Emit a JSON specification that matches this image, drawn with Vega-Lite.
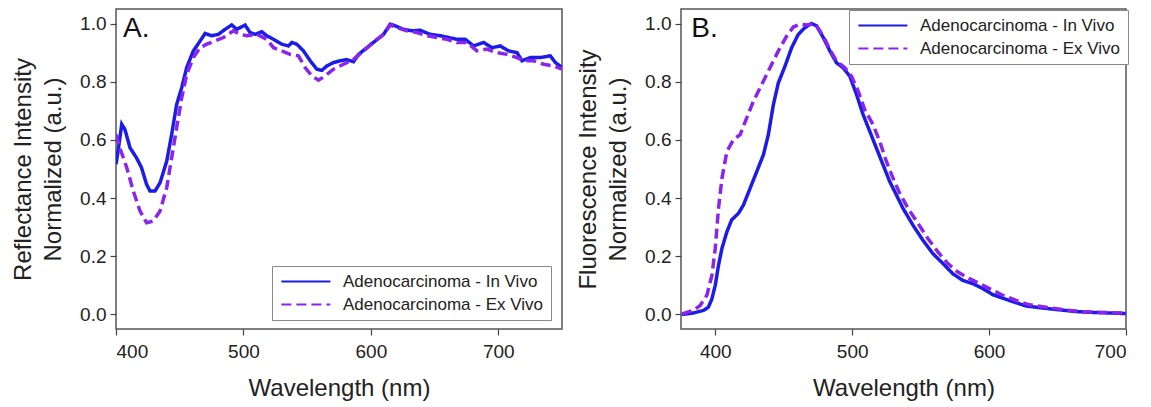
{
  "$schema": "https://vega.github.io/schema/vega-lite/v6.json",
  "background": "white",
  "padding": {"left": 10, "top": 8, "right": 2, "bottom": 0},
  "spacing": 12,
  "config": {
    "font": "Liberation Sans",
    "view": {"stroke": "#555", "strokeWidth": 1.5},
    "axis": {"domain": false, "grid": false, "tickColor": "#444", "tickSize": 6, "tickWidth": 1.2,
      "labelFont": "Liberation Sans", "labelFontSize": 19, "labelColor": "#222",
      "titleFont": "Liberation Sans", "titleFontSize": 24, "titleFontWeight": "normal", "titleColor": "#222"},
    "axisY": {"labelPadding": 4, "titlePadding": 14, "titleLineHeight": 30},
    "axisX": {"labelPadding": 7, "titlePadding": 15},
    "legend": {"strokeColor": "#888", "fillColor": "white", "padding": 7, "labelFont": "Liberation Sans", "labelFontSize": 17, "labelColor": "#222", "labelLimit": 400,
      "symbolType": "M-1,0H7", "symbolSize": 150, "symbolStrokeWidth": 2.2, "labelOffset": 47, "rowPadding": 5, "cornerRadius": 0}
  },
  "datasets": {
    "refl": [
      {"wl": 400, "val": 0.516, "s": "In Vivo"}, {"wl": 402, "val": 0.573, "s": "In Vivo"}, {"wl": 404.5, "val": 0.654, "s": "In Vivo"}, {"wl": 407, "val": 0.636, "s": "In Vivo"},
      {"wl": 411, "val": 0.573, "s": "In Vivo"}, {"wl": 416, "val": 0.539, "s": "In Vivo"}, {"wl": 420, "val": 0.505, "s": "In Vivo"}, {"wl": 424, "val": 0.447, "s": "In Vivo"},
      {"wl": 426.7, "val": 0.424, "s": "In Vivo"}, {"wl": 430.6, "val": 0.424, "s": "In Vivo"}, {"wl": 434.6, "val": 0.453, "s": "In Vivo"}, {"wl": 439.8, "val": 0.527, "s": "In Vivo"},
      {"wl": 443.7, "val": 0.619, "s": "In Vivo"}, {"wl": 447.6, "val": 0.722, "s": "In Vivo"}, {"wl": 451.6, "val": 0.78, "s": "In Vivo"}, {"wl": 455.5, "val": 0.849, "s": "In Vivo"},
      {"wl": 460.7, "val": 0.906, "s": "In Vivo"}, {"wl": 466, "val": 0.94, "s": "In Vivo"}, {"wl": 469.9, "val": 0.966, "s": "In Vivo"}, {"wl": 475, "val": 0.958, "s": "In Vivo"},
      {"wl": 480.4, "val": 0.963, "s": "In Vivo"}, {"wl": 485.6, "val": 0.98, "s": "In Vivo"}, {"wl": 490.8, "val": 0.995, "s": "In Vivo"}, {"wl": 494.8, "val": 0.98, "s": "In Vivo"},
      {"wl": 497.4, "val": 0.986, "s": "In Vivo"}, {"wl": 501.3, "val": 0.995, "s": "In Vivo"}, {"wl": 505.2, "val": 0.969, "s": "In Vivo"}, {"wl": 509.2, "val": 0.963, "s": "In Vivo"},
      {"wl": 514.4, "val": 0.972, "s": "In Vivo"}, {"wl": 518.3, "val": 0.958, "s": "In Vivo"}, {"wl": 523.6, "val": 0.946, "s": "In Vivo"}, {"wl": 530, "val": 0.929, "s": "In Vivo"},
      {"wl": 535.3, "val": 0.923, "s": "In Vivo"}, {"wl": 538, "val": 0.935, "s": "In Vivo"}, {"wl": 541.9, "val": 0.929, "s": "In Vivo"}, {"wl": 547.1, "val": 0.906, "s": "In Vivo"},
      {"wl": 552.4, "val": 0.872, "s": "In Vivo"}, {"wl": 557.6, "val": 0.843, "s": "In Vivo"}, {"wl": 561.5, "val": 0.839, "s": "In Vivo"}, {"wl": 565.4, "val": 0.854, "s": "In Vivo"},
      {"wl": 570.7, "val": 0.866, "s": "In Vivo"}, {"wl": 575.9, "val": 0.872, "s": "In Vivo"}, {"wl": 581, "val": 0.876, "s": "In Vivo"}, {"wl": 586.4, "val": 0.869, "s": "In Vivo"},
      {"wl": 590.3, "val": 0.894, "s": "In Vivo"}, {"wl": 596.9, "val": 0.917, "s": "In Vivo"}, {"wl": 603.4, "val": 0.94, "s": "In Vivo"}, {"wl": 610, "val": 0.963, "s": "In Vivo"},
      {"wl": 615.2, "val": 0.998, "s": "In Vivo"}, {"wl": 619.1, "val": 0.992, "s": "In Vivo"}, {"wl": 625.7, "val": 0.98, "s": "In Vivo"}, {"wl": 632.2, "val": 0.975, "s": "In Vivo"},
      {"wl": 638.7, "val": 0.977, "s": "In Vivo"}, {"wl": 646.6, "val": 0.963, "s": "In Vivo"}, {"wl": 654.5, "val": 0.958, "s": "In Vivo"}, {"wl": 661, "val": 0.952, "s": "In Vivo"},
      {"wl": 667.5, "val": 0.946, "s": "In Vivo"}, {"wl": 674, "val": 0.946, "s": "In Vivo"}, {"wl": 680.6, "val": 0.923, "s": "In Vivo"}, {"wl": 688.5, "val": 0.935, "s": "In Vivo"},
      {"wl": 695, "val": 0.917, "s": "In Vivo"}, {"wl": 701.6, "val": 0.923, "s": "In Vivo"}, {"wl": 708.1, "val": 0.906, "s": "In Vivo"}, {"wl": 714.7, "val": 0.9, "s": "In Vivo"},
      {"wl": 718.6, "val": 0.872, "s": "In Vivo"}, {"wl": 725.1, "val": 0.883, "s": "In Vivo"}, {"wl": 733, "val": 0.883, "s": "In Vivo"}, {"wl": 740.8, "val": 0.889, "s": "In Vivo"},
      {"wl": 744.8, "val": 0.866, "s": "In Vivo"}, {"wl": 750, "val": 0.849, "s": "In Vivo"},
      {"wl": 400, "val": 0.619, "s": "Ex Vivo"}, {"wl": 403, "val": 0.573, "s": "Ex Vivo"}, {"wl": 408.4, "val": 0.505, "s": "Ex Vivo"}, {"wl": 413.6, "val": 0.424, "s": "Ex Vivo"},
      {"wl": 418.8, "val": 0.356, "s": "Ex Vivo"}, {"wl": 424, "val": 0.315, "s": "Ex Vivo"}, {"wl": 429.3, "val": 0.321, "s": "Ex Vivo"}, {"wl": 434.6, "val": 0.356, "s": "Ex Vivo"},
      {"wl": 439.8, "val": 0.436, "s": "Ex Vivo"}, {"wl": 443.7, "val": 0.539, "s": "Ex Vivo"}, {"wl": 447.6, "val": 0.642, "s": "Ex Vivo"}, {"wl": 451.6, "val": 0.745, "s": "Ex Vivo"},
      {"wl": 455.5, "val": 0.826, "s": "Ex Vivo"}, {"wl": 460.7, "val": 0.883, "s": "Ex Vivo"}, {"wl": 466, "val": 0.917, "s": "Ex Vivo"}, {"wl": 471.2, "val": 0.929, "s": "Ex Vivo"},
      {"wl": 477.7, "val": 0.94, "s": "Ex Vivo"}, {"wl": 484.3, "val": 0.952, "s": "Ex Vivo"}, {"wl": 492.1, "val": 0.975, "s": "Ex Vivo"}, {"wl": 497.4, "val": 0.963, "s": "Ex Vivo"},
      {"wl": 502.6, "val": 0.958, "s": "Ex Vivo"}, {"wl": 510.5, "val": 0.963, "s": "Ex Vivo"}, {"wl": 518.3, "val": 0.946, "s": "Ex Vivo"}, {"wl": 523.6, "val": 0.917, "s": "Ex Vivo"},
      {"wl": 530, "val": 0.906, "s": "Ex Vivo"}, {"wl": 536.6, "val": 0.894, "s": "Ex Vivo"}, {"wl": 543.2, "val": 0.889, "s": "Ex Vivo"}, {"wl": 548.4, "val": 0.849, "s": "Ex Vivo"},
      {"wl": 553.7, "val": 0.82, "s": "Ex Vivo"}, {"wl": 558.9, "val": 0.805, "s": "Ex Vivo"}, {"wl": 564.1, "val": 0.82, "s": "Ex Vivo"}, {"wl": 570.7, "val": 0.843, "s": "Ex Vivo"},
      {"wl": 578.5, "val": 0.86, "s": "Ex Vivo"}, {"wl": 586.4, "val": 0.877, "s": "Ex Vivo"}, {"wl": 594.2, "val": 0.906, "s": "Ex Vivo"}, {"wl": 602, "val": 0.935, "s": "Ex Vivo"},
      {"wl": 610, "val": 0.963, "s": "Ex Vivo"}, {"wl": 615.2, "val": 0.995, "s": "Ex Vivo"}, {"wl": 620.4, "val": 0.986, "s": "Ex Vivo"}, {"wl": 628.3, "val": 0.975, "s": "Ex Vivo"},
      {"wl": 636.1, "val": 0.969, "s": "Ex Vivo"}, {"wl": 644, "val": 0.958, "s": "Ex Vivo"}, {"wl": 651.8, "val": 0.952, "s": "Ex Vivo"}, {"wl": 659.7, "val": 0.946, "s": "Ex Vivo"},
      {"wl": 667.5, "val": 0.935, "s": "Ex Vivo"}, {"wl": 675.4, "val": 0.935, "s": "Ex Vivo"}, {"wl": 683.2, "val": 0.906, "s": "Ex Vivo"}, {"wl": 691, "val": 0.912, "s": "Ex Vivo"},
      {"wl": 698.9, "val": 0.9, "s": "Ex Vivo"}, {"wl": 706.8, "val": 0.894, "s": "Ex Vivo"}, {"wl": 714.7, "val": 0.883, "s": "Ex Vivo"}, {"wl": 719.9, "val": 0.872, "s": "Ex Vivo"},
      {"wl": 727.7, "val": 0.872, "s": "Ex Vivo"}, {"wl": 735.6, "val": 0.86, "s": "Ex Vivo"}, {"wl": 743.5, "val": 0.854, "s": "Ex Vivo"}, {"wl": 750, "val": 0.843, "s": "Ex Vivo"}
    ],
    "fluo": [
      {"wl": 375.7, "val": 0.0, "s": "In Vivo"}, {"wl": 384, "val": 0.005, "s": "In Vivo"}, {"wl": 391.5, "val": 0.014, "s": "In Vivo"}, {"wl": 395, "val": 0.025, "s": "In Vivo"},
      {"wl": 397.6, "val": 0.054, "s": "In Vivo"}, {"wl": 400, "val": 0.1, "s": "In Vivo"}, {"wl": 402.4, "val": 0.169, "s": "In Vivo"}, {"wl": 404.9, "val": 0.227, "s": "In Vivo"},
      {"wl": 408.5, "val": 0.284, "s": "In Vivo"}, {"wl": 412, "val": 0.325, "s": "In Vivo"}, {"wl": 417, "val": 0.348, "s": "In Vivo"}, {"wl": 420.6, "val": 0.376, "s": "In Vivo"},
      {"wl": 425.5, "val": 0.434, "s": "In Vivo"}, {"wl": 430.3, "val": 0.491, "s": "In Vivo"}, {"wl": 435.2, "val": 0.549, "s": "In Vivo"}, {"wl": 438.8, "val": 0.618, "s": "In Vivo"},
      {"wl": 442.5, "val": 0.722, "s": "In Vivo"}, {"wl": 446.1, "val": 0.796, "s": "In Vivo"}, {"wl": 451, "val": 0.854, "s": "In Vivo"}, {"wl": 455.8, "val": 0.917, "s": "In Vivo"},
      {"wl": 460.7, "val": 0.963, "s": "In Vivo"}, {"wl": 465.5, "val": 0.986, "s": "In Vivo"}, {"wl": 470.4, "val": 1.0, "s": "In Vivo"}, {"wl": 474, "val": 0.992, "s": "In Vivo"},
      {"wl": 478.9, "val": 0.952, "s": "In Vivo"}, {"wl": 483.7, "val": 0.906, "s": "In Vivo"}, {"wl": 488.6, "val": 0.865, "s": "In Vivo"}, {"wl": 493.4, "val": 0.848, "s": "In Vivo"},
      {"wl": 498.3, "val": 0.819, "s": "In Vivo"}, {"wl": 503.2, "val": 0.756, "s": "In Vivo"}, {"wl": 508, "val": 0.687, "s": "In Vivo"}, {"wl": 512.9, "val": 0.629, "s": "In Vivo"},
      {"wl": 517.7, "val": 0.572, "s": "In Vivo"}, {"wl": 522.6, "val": 0.514, "s": "In Vivo"}, {"wl": 527.4, "val": 0.457, "s": "In Vivo"}, {"wl": 532.3, "val": 0.411, "s": "In Vivo"},
      {"wl": 537.1, "val": 0.365, "s": "In Vivo"}, {"wl": 544.4, "val": 0.307, "s": "In Vivo"}, {"wl": 551.7, "val": 0.255, "s": "In Vivo"}, {"wl": 559, "val": 0.209, "s": "In Vivo"},
      {"wl": 566.3, "val": 0.175, "s": "In Vivo"}, {"wl": 573.5, "val": 0.14, "s": "In Vivo"}, {"wl": 580.8, "val": 0.117, "s": "In Vivo"}, {"wl": 588.1, "val": 0.106, "s": "In Vivo"},
      {"wl": 595.4, "val": 0.089, "s": "In Vivo"}, {"wl": 602.7, "val": 0.068, "s": "In Vivo"}, {"wl": 614.8, "val": 0.048, "s": "In Vivo"}, {"wl": 627, "val": 0.029, "s": "In Vivo"},
      {"wl": 639.1, "val": 0.022, "s": "In Vivo"}, {"wl": 651.2, "val": 0.016, "s": "In Vivo"}, {"wl": 663.3, "val": 0.01, "s": "In Vivo"}, {"wl": 675.5, "val": 0.007, "s": "In Vivo"},
      {"wl": 687.6, "val": 0.005, "s": "In Vivo"}, {"wl": 699.8, "val": 0.003, "s": "In Vivo"},
      {"wl": 375.7, "val": 0.002, "s": "Ex Vivo"}, {"wl": 384, "val": 0.014, "s": "Ex Vivo"}, {"wl": 389, "val": 0.031, "s": "Ex Vivo"}, {"wl": 393.9, "val": 0.066, "s": "Ex Vivo"},
      {"wl": 397.6, "val": 0.135, "s": "Ex Vivo"}, {"wl": 400, "val": 0.227, "s": "Ex Vivo"}, {"wl": 402.4, "val": 0.365, "s": "Ex Vivo"}, {"wl": 404.9, "val": 0.468, "s": "Ex Vivo"},
      {"wl": 408.5, "val": 0.56, "s": "Ex Vivo"}, {"wl": 413.3, "val": 0.601, "s": "Ex Vivo"}, {"wl": 418.2, "val": 0.618, "s": "Ex Vivo"}, {"wl": 423, "val": 0.676, "s": "Ex Vivo"},
      {"wl": 427.9, "val": 0.733, "s": "Ex Vivo"}, {"wl": 434, "val": 0.791, "s": "Ex Vivo"}, {"wl": 440, "val": 0.848, "s": "Ex Vivo"}, {"wl": 446.1, "val": 0.906, "s": "Ex Vivo"},
      {"wl": 452.2, "val": 0.957, "s": "Ex Vivo"}, {"wl": 457, "val": 0.988, "s": "Ex Vivo"}, {"wl": 461.9, "val": 0.998, "s": "Ex Vivo"}, {"wl": 466.7, "val": 0.995, "s": "Ex Vivo"},
      {"wl": 472.8, "val": 1.0, "s": "Ex Vivo"}, {"wl": 478.9, "val": 0.957, "s": "Ex Vivo"}, {"wl": 483.7, "val": 0.911, "s": "Ex Vivo"}, {"wl": 488.6, "val": 0.871, "s": "Ex Vivo"},
      {"wl": 494.7, "val": 0.848, "s": "Ex Vivo"}, {"wl": 499.5, "val": 0.819, "s": "Ex Vivo"}, {"wl": 504.4, "val": 0.768, "s": "Ex Vivo"}, {"wl": 509.2, "val": 0.704, "s": "Ex Vivo"},
      {"wl": 515.3, "val": 0.652, "s": "Ex Vivo"}, {"wl": 520.1, "val": 0.595, "s": "Ex Vivo"}, {"wl": 525, "val": 0.526, "s": "Ex Vivo"}, {"wl": 529.9, "val": 0.468, "s": "Ex Vivo"},
      {"wl": 534.7, "val": 0.417, "s": "Ex Vivo"}, {"wl": 540.8, "val": 0.365, "s": "Ex Vivo"}, {"wl": 548.1, "val": 0.313, "s": "Ex Vivo"}, {"wl": 555.3, "val": 0.261, "s": "Ex Vivo"},
      {"wl": 562.6, "val": 0.215, "s": "Ex Vivo"}, {"wl": 569.9, "val": 0.175, "s": "Ex Vivo"}, {"wl": 577.2, "val": 0.146, "s": "Ex Vivo"}, {"wl": 585.7, "val": 0.123, "s": "Ex Vivo"},
      {"wl": 593, "val": 0.106, "s": "Ex Vivo"}, {"wl": 600.2, "val": 0.089, "s": "Ex Vivo"}, {"wl": 610, "val": 0.066, "s": "Ex Vivo"}, {"wl": 619.7, "val": 0.048, "s": "Ex Vivo"},
      {"wl": 629.4, "val": 0.033, "s": "Ex Vivo"}, {"wl": 641.5, "val": 0.025, "s": "Ex Vivo"}, {"wl": 653.6, "val": 0.017, "s": "Ex Vivo"}, {"wl": 665.8, "val": 0.01, "s": "Ex Vivo"},
      {"wl": 677.9, "val": 0.008, "s": "Ex Vivo"}, {"wl": 690, "val": 0.006, "s": "Ex Vivo"}, {"wl": 699.8, "val": 0.005, "s": "Ex Vivo"}
    ]
  },
  "hconcat": [
    {
      "width": 446, "height": 320,
      "encoding": {
        "x": {"field": "wl", "type": "quantitative", "title": "Wavelength (nm)",
          "scale": {"domain": [400, 750], "nice": false, "zero": false},
          "axis": {"values": [400, 500, 600, 700], "format": "d"}},
        "y": {"field": "val", "type": "quantitative", "title": ["Reflectance Intensity", "Normalized (a.u.)"],
          "scale": {"domain": [-0.05, 1.05], "nice": false, "zero": false},
          "axis": {"values": [0, 0.2, 0.4, 0.6, 0.8, 1.0], "format": ".1f"}}
      },
      "layer": [
        {
          "data": {"name": "refl"},
          "mark": {"type": "line", "strokeWidth": 3.5, "clip": true},
          "encoding": {
            "color": {"field": "s", "type": "nominal",
              "scale": {"domain": ["In Vivo", "Ex Vivo"], "range": ["#1c1ce8", "#8a24ee"]},
              "legend": {"title": null, "orient": "none", "legendX": 156, "legendY": 257, "labelExpr": "'Adenocarcinoma - ' + datum.label"}},
            "strokeDash": {"field": "s", "type": "nominal",
              "scale": {"domain": ["In Vivo", "Ex Vivo"], "range": [[1, 0], [10, 5]]},
              "legend": {"title": null, "orient": "none", "legendX": 156, "legendY": 257, "labelExpr": "'Adenocarcinoma - ' + datum.label"}}
          }
        },
        {
          "data": {"values": [{"wl": 405.5, "val": 0.982, "t": "A."}]},
          "mark": {"type": "text", "align": "left", "baseline": "middle", "fontSize": 28, "color": "#111", "font": "Liberation Sans"},
          "encoding": {"text": {"field": "t"}}
        }
      ]
    },
    {
      "width": 445, "height": 320,
      "encoding": {
        "x": {"field": "wl", "type": "quantitative", "title": "Wavelength (nm)",
          "scale": {"domain": [375, 700], "nice": false, "zero": false},
          "axis": {"values": [400, 500, 600, 700], "format": "d"}},
        "y": {"field": "val", "type": "quantitative", "title": ["Fluorescence Intensity", "Normalized (a.u.)"],
          "scale": {"domain": [-0.05, 1.05], "nice": false, "zero": false},
          "axis": {"values": [0, 0.2, 0.4, 0.6, 0.8, 1.0], "format": ".1f"}}
      },
      "layer": [
        {
          "data": {"name": "fluo"},
          "mark": {"type": "line", "strokeWidth": 3.5, "clip": true},
          "encoding": {
            "color": {"field": "s", "type": "nominal",
              "scale": {"domain": ["In Vivo", "Ex Vivo"], "range": ["#1c1ce8", "#8a24ee"]},
              "legend": {"title": null, "orient": "none", "legendX": 168, "legendY": 1, "labelExpr": "'Adenocarcinoma - ' + datum.label"}},
            "strokeDash": {"field": "s", "type": "nominal",
              "scale": {"domain": ["In Vivo", "Ex Vivo"], "range": [[1, 0], [10, 5]]},
              "legend": {"title": null, "orient": "none", "legendX": 168, "legendY": 1, "labelExpr": "'Adenocarcinoma - ' + datum.label"}}
          }
        },
        {
          "data": {"values": [{"wl": 382.5, "val": 0.982, "t": "B."}]},
          "mark": {"type": "text", "align": "left", "baseline": "middle", "fontSize": 28, "color": "#111", "font": "Liberation Sans"},
          "encoding": {"text": {"field": "t"}}
        }
      ]
    }
  ],
  "resolve": {"scale": {"x": "independent", "y": "independent", "color": "independent", "strokeDash": "independent"}, "legend": {"color": "independent", "strokeDash": "independent"}}
}
